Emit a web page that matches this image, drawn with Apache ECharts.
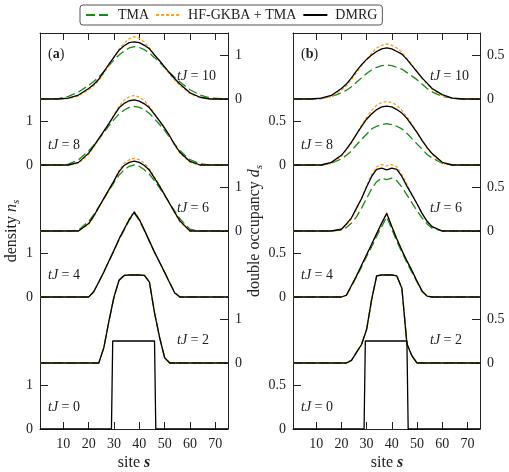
<!DOCTYPE html>
<html>
<head>
<meta charset="utf-8">
<script src="https://cdn.jsdelivr.net/npm/echarts@6/dist/echarts.min.js"></script>
<style>
  html, body { margin: 0; padding: 0; background: #fff; }
  #chart { width: 509px; height: 472px; }
</style>
</head>
<body>
<div id="chart"></div>
<script>
// sites where the curves are sampled
const sites = [1, 8, 12, 16, 20, 22, 24, 26, 28, 30, 32, 34, 36, 38, 40, 42, 44, 46, 48, 50, 52, 54, 56, 60, 64, 68, 75];
const times = [0, 2, 4, 6, 8, 10];

// initial state (tJ = 0): doubly occupied block
const stepSites = [1, 29, 30, 46, 47, 75];
const nStep = [0, 0, 2, 2, 0, 0];
const dStep = [0, 0, 1, 1, 0, 0];

// density n_s
const n2 = [0, 0, 0, 0, 0, 0, 0, 0.35, 0.95, 1.50, 1.88, 1.99, 2.0, 2.0, 2.0, 1.99, 1.84, 1.14, 0.58, 0.12, 0, 0, 0, 0, 0, 0, 0];
const nTMA4 = [0, 0, 0, 0, 0, 0.12, 0.34, 0.57, 0.81, 1.05, 1.30, 1.52, 1.74, 1.90, 1.74, 1.51, 1.26, 1.01, 0.79, 0.56, 0.33, 0.10, 0, 0, 0, 0, 0];
const nHF4 = [0, 0, 0, 0, 0, 0.12, 0.34, 0.57, 0.82, 1.06, 1.32, 1.55, 1.78, 1.95, 1.77, 1.52, 1.27, 1.02, 0.79, 0.56, 0.32, 0.09, 0, 0, 0, 0, 0];
const nDMRG4 = [0, 0, 0, 0, 0, 0.12, 0.34, 0.57, 0.82, 1.06, 1.32, 1.54, 1.76, 1.93, 1.76, 1.52, 1.27, 1.02, 0.79, 0.56, 0.32, 0.09, 0, 0, 0, 0, 0];
const nTMA6 = [0, 0, 0, 0.02, 0.22, 0.37, 0.55, 0.73, 0.92, 1.10, 1.27, 1.39, 1.47, 1.50, 1.47, 1.39, 1.29, 1.14, 0.98, 0.81, 0.63, 0.45, 0.28, 0.04, 0, 0, 0];
const nHF6 = [0, 0, 0, 0, 0.15, 0.32, 0.52, 0.73, 0.94, 1.15, 1.38, 1.54, 1.62, 1.65, 1.62, 1.54, 1.41, 1.22, 1.03, 0.82, 0.61, 0.40, 0.21, 0, 0, 0, 0];
const nDMRG6 = [0, 0, 0, 0, 0.17, 0.34, 0.54, 0.74, 0.94, 1.14, 1.35, 1.49, 1.56, 1.59, 1.56, 1.49, 1.38, 1.20, 1.02, 0.82, 0.62, 0.42, 0.23, 0, 0, 0, 0];
const nTMA8 = [0, 0, 0.02, 0.12, 0.32, 0.45, 0.59, 0.74, 0.89, 1.03, 1.16, 1.25, 1.31, 1.33, 1.31, 1.26, 1.17, 1.05, 0.92, 0.78, 0.63, 0.47, 0.33, 0.12, 0.03, 0, 0];
const nHF8 = [0, 0, 0, 0.04, 0.24, 0.40, 0.58, 0.76, 0.95, 1.14, 1.33, 1.47, 1.55, 1.58, 1.54, 1.46, 1.33, 1.17, 1.00, 0.83, 0.64, 0.44, 0.27, 0.06, 0, 0, 0];
const nDMRG8 = [0, 0, 0, 0.06, 0.27, 0.43, 0.60, 0.77, 0.94, 1.12, 1.30, 1.40, 1.46, 1.48, 1.45, 1.39, 1.30, 1.15, 1.00, 0.84, 0.66, 0.46, 0.29, 0.08, 0, 0, 0];
const nTMA10 = [0, 0.01, 0.06, 0.16, 0.31, 0.40, 0.50, 0.62, 0.76, 0.89, 1.00, 1.09, 1.16, 1.19, 1.17, 1.12, 1.04, 0.94, 0.83, 0.71, 0.60, 0.49, 0.39, 0.21, 0.09, 0.02, 0];
const nHF10 = [0, 0, 0.01, 0.07, 0.21, 0.30, 0.42, 0.58, 0.76, 0.95, 1.13, 1.27, 1.37, 1.42, 1.38, 1.29, 1.16, 1.01, 0.86, 0.71, 0.56, 0.43, 0.31, 0.12, 0.03, 0, 0];
const nDMRG10 = [0, 0, 0.02, 0.09, 0.24, 0.33, 0.45, 0.62, 0.79, 0.95, 1.11, 1.21, 1.28, 1.30, 1.28, 1.22, 1.14, 1.00, 0.87, 0.73, 0.59, 0.46, 0.34, 0.14, 0.04, 0, 0];

// double occupancy d_s
const d2 = [0, 0, 0, 0, 0, 0, 0.03, 0.12, 0.21, 0.38, 0.72, 0.99, 1.0, 1.0, 1.0, 0.99, 0.85, 0.22, 0.08, 0, 0, 0, 0, 0, 0, 0, 0];
const dTMA4 = [0, 0, 0, 0, 0, 0.02, 0.12, 0.23, 0.34, 0.46, 0.57, 0.69, 0.80, 0.91, 0.77, 0.63, 0.51, 0.39, 0.28, 0.17, 0.06, 0.01, 0, 0, 0, 0, 0];
const dHF4 = [0, 0, 0, 0, 0, 0.02, 0.13, 0.24, 0.36, 0.48, 0.60, 0.72, 0.84, 0.96, 0.80, 0.66, 0.53, 0.41, 0.30, 0.18, 0.07, 0.01, 0, 0, 0, 0, 0];
const dDMRG4 = [0, 0, 0, 0, 0, 0.02, 0.13, 0.24, 0.36, 0.48, 0.60, 0.72, 0.84, 0.95, 0.80, 0.66, 0.53, 0.41, 0.30, 0.18, 0.07, 0.01, 0, 0, 0, 0, 0];
const dTMA6 = [0, 0, 0, 0, 0.01, 0.04, 0.09, 0.16, 0.26, 0.37, 0.48, 0.56, 0.60, 0.585, 0.60, 0.57, 0.50, 0.41, 0.32, 0.23, 0.15, 0.08, 0.03, 0, 0, 0, 0];
const dHF6 = [0, 0, 0, 0, 0.02, 0.07, 0.14, 0.25, 0.37, 0.51, 0.64, 0.73, 0.755, 0.74, 0.755, 0.73, 0.64, 0.53, 0.42, 0.31, 0.20, 0.11, 0.05, 0, 0, 0, 0];
const dDMRG6 = [0, 0, 0, 0, 0.02, 0.08, 0.15, 0.26, 0.37, 0.50, 0.62, 0.70, 0.715, 0.695, 0.715, 0.70, 0.62, 0.51, 0.41, 0.31, 0.20, 0.11, 0.05, 0, 0, 0, 0];
const dTMA8 = [0, 0, 0, 0.02, 0.07, 0.11, 0.16, 0.23, 0.29, 0.35, 0.41, 0.44, 0.46, 0.47, 0.46, 0.44, 0.41, 0.36, 0.30, 0.24, 0.18, 0.12, 0.08, 0.02, 0, 0, 0];
const dHF8 = [0, 0, 0, 0.02, 0.10, 0.17, 0.25, 0.35, 0.45, 0.54, 0.62, 0.68, 0.71, 0.72, 0.71, 0.68, 0.62, 0.55, 0.46, 0.37, 0.28, 0.19, 0.12, 0.02, 0, 0, 0];
const dDMRG8 = [0, 0, 0, 0.03, 0.11, 0.18, 0.26, 0.35, 0.44, 0.52, 0.58, 0.63, 0.66, 0.67, 0.66, 0.63, 0.59, 0.53, 0.45, 0.37, 0.28, 0.20, 0.13, 0.03, 0, 0, 0];
const dTMA10 = [0, 0, 0.01, 0.03, 0.07, 0.10, 0.14, 0.19, 0.24, 0.29, 0.33, 0.36, 0.38, 0.386, 0.38, 0.36, 0.34, 0.30, 0.26, 0.22, 0.17, 0.12, 0.08, 0.03, 0.01, 0, 0];
const dHF10 = [0, 0, 0, 0.03, 0.10, 0.15, 0.22, 0.30, 0.38, 0.45, 0.52, 0.58, 0.61, 0.625, 0.61, 0.58, 0.53, 0.46, 0.39, 0.31, 0.23, 0.17, 0.11, 0.04, 0.01, 0, 0];
const dDMRG10 = [0, 0, 0.01, 0.04, 0.12, 0.17, 0.24, 0.32, 0.39, 0.45, 0.50, 0.54, 0.57, 0.58, 0.57, 0.54, 0.51, 0.45, 0.38, 0.31, 0.24, 0.18, 0.12, 0.05, 0.01, 0, 0];

// axis ticks
const xTicks = [10, 20, 30, 40, 50, 60, 70];
const nTicks = [0, 1];
const nTickLabels = ['0', '1'];
const dTicks = [0, 0.5];
const dTickLabels = ['0', '0.5'];

const FONT = 'Liberation Serif';
const INK = '#222';
const methods = [
    { name: 'TMA', color: '#1a8a1a', type: [9, 4] },
    { name: 'HF-GKBA + TMA', color: '#ff9f1a', type: [3, 2] },
    { name: 'DMRG', color: '#000', type: 'solid' }
];

const panels = [
    {
        shift: 1.5, ymax: 9, ticks: nTicks, labels: nTickLabels,
        step: nStep,
        curves: [
            [n2, n2, n2],
            [nTMA4, nHF4, nDMRG4],
            [nTMA6, nHF6, nDMRG6],
            [nTMA8, nHF8, nDMRG8],
            [nTMA10, nHF10, nDMRG10]
        ]
    },
    {
        shift: 0.75, ymax: 4.5, ticks: dTicks, labels: dTickLabels,
        step: dStep,
        curves: [
            [d2, d2, d2],
            [dTMA4, dHF4, dDMRG4],
            [dTMA6, dHF6, dDMRG6],
            [dTMA8, dHF8, dDMRG8],
            [dTMA10, dHF10, dDMRG10]
        ]
    }
];

const chart = echarts.init(document.getElementById('chart'));

const series = [];
const xAxis = [];
const yAxis = [];

panels.forEach((p, gi) => {
    // 叠放的基线
    const leftTicks = [], rightTicks = [], leftLab = [], rightLab = [];
    times.forEach((t, k) => {
        const base = k * p.shift;
        p.ticks.forEach((v, j) => {
            if (k % 2 === 0) { leftTicks.push(base + v); leftLab.push(p.labels[j]); }
            else { rightTicks.push(base + v); rightLab.push(p.labels[j]); }
        });
    });
    const fmt = (ticks, labs) => (v) => {
        const k = ticks.findIndex(t => Math.abs(t - v) < 1e-6);
        return k >= 0 ? labs[k] : '';
    };

    const tickStyle = { inside: true, length: 7, lineStyle: { color: INK, width: 1 } };
    xAxis.push({
        gridIndex: gi, type: 'value', min: 0.8, max: 75, position: 'bottom',
        axisLine: { onZero: false, lineStyle: { color: INK, width: 1 } },
        axisTick: Object.assign({ customValues: xTicks }, tickStyle),
        axisLabel: { customValues: xTicks, margin: 8, color: INK, fontSize: 14, fontFamily: FONT },
        splitLine: { show: false }
    });
    xAxis.push({
        gridIndex: gi, type: 'value', min: 0.8, max: 75, position: 'top',
        axisLine: { onZero: false, lineStyle: { color: INK, width: 1 } },
        axisTick: Object.assign({ customValues: xTicks }, tickStyle),
        axisLabel: { show: false },
        splitLine: { show: false }
    });
    yAxis.push({
        gridIndex: gi, type: 'value', min: 0, max: p.ymax, position: 'left',
        axisLine: { show: true, onZero: false, lineStyle: { color: INK, width: 1 } },
        axisTick: Object.assign({ customValues: leftTicks }, tickStyle, { length: 8 }),
        axisLabel: { customValues: leftTicks, formatter: fmt(leftTicks, leftLab), margin: 7, color: INK, fontSize: 14, fontFamily: FONT },
        splitLine: { show: false }
    });
    yAxis.push({
        gridIndex: gi, type: 'value', min: 0, max: p.ymax, position: 'right',
        axisLine: { show: true, onZero: false, lineStyle: { color: INK, width: 1 } },
        axisTick: Object.assign({ customValues: rightTicks }, tickStyle, { length: 8 }),
        axisLabel: { customValues: rightTicks, formatter: fmt(rightTicks, rightLab), margin: 7, color: INK, fontSize: 14, fontFamily: FONT },
        splitLine: { show: false }
    });

    p.curves.forEach((trio, k) => {
        const base = (k + 1) * p.shift;
        trio.forEach((vals, m) => {
            const meth = methods[m];
            series.push({
                name: meth.name, type: 'line', symbol: 'none', silent: true,
                xAxisIndex: gi * 2, yAxisIndex: gi * 2,
                z: m === 2 ? 4 : 3,
                lineStyle: { color: meth.color, width: 1.3, type: meth.type },
                itemStyle: { color: meth.color },
                data: sites.map((s, i) => [s, vals[i] + base])
            });
        });
    });

    // tJ = 0 阶跃
    series.push({
        name: 'DMRG', type: 'line', step: 'middle', symbol: 'none', silent: true,
        xAxisIndex: gi * 2, yAxisIndex: gi * 2, z: 4,
        lineStyle: { color: '#000', width: 1.3 },
        itemStyle: { color: '#000' },
        data: stepSites.map((s, i) => [s, p.step[i]])
    });
});

// 文字标注
const richBase = {
    i: { fontStyle: 'italic', fontFamily: FONT, fontSize: 14, fill: INK },
    b: { fontWeight: 'bold', fontFamily: FONT, fontSize: 14, fill: INK },
    n: { fontFamily: FONT, fontSize: 14, fill: INK },
    sub: { fontStyle: 'italic', fontFamily: FONT, fontSize: 11, fill: INK, padding: [8, 0, 0, 0] },
    ti: { fontStyle: 'italic', fontFamily: FONT, fontSize: 16, fill: INK },
    tb: { fontStyle: 'italic', fontWeight: 'bold', fontFamily: FONT, fontSize: 16, fill: INK },
    t: { fontFamily: FONT, fontSize: 16, fill: INK }
};
const label = (x, y, text, extra) => Object.assign({
    type: 'text', x: x, y: y, silent: true,
    style: { text: text, rich: richBase, align: 'left', verticalAlign: 'middle', font: '14px ' + FONT, fill: INK }
}, extra || {});

const tLabelY = [407, 340, 275, 208, 145, 76];
const graphics = [];
[[48, 177], [301, 430]].forEach((xs) => {
    times.forEach((t, k) => {
        const x = k % 2 === 0 ? xs[0] : xs[1];
        graphics.push(label(x, tLabelY[k], '{i|tJ}{n| = ' + t + '}'));
    });
});
graphics.push(label(48, 54, '{n|(}{b|a}{n|)}'));
graphics.push(label(301, 54, '{n|(}{b|b}{n|)}'));
graphics.push(label(134, 463, '{t|site }{tb|s}', {}));
graphics.push(label(387, 463, '{t|site }{tb|s}', {}));
graphics.push(label(12, 231, '{t|density }{ti|n}{sub|s}', { rotation: Math.PI / 2 }));
graphics.push(label(255, 231, '{t|double occupancy }{ti|d}{sub|s}', { rotation: Math.PI / 2 }));
graphics.slice(-4).forEach(g => { g.style.align = 'center'; });

chart.setOption({
    animation: false,
    backgroundColor: '#fff',
    grid: [
        { left: 40, top: 33, width: 188, height: 396 },
        { left: 293, top: 33, width: 187, height: 396 }
    ],
    legend: {
        data: methods.map(m => m.name),
        left: 80, top: 5,
        padding: [3, 5],
        itemWidth: 24, itemHeight: 12, itemGap: 6,
        itemStyle: { opacity: 0 },
        borderColor: '#555', borderWidth: 1, borderRadius: 3,
        textStyle: { fontFamily: FONT, fontSize: 14, color: INK, padding: [0, 0, 0, 3] }
    },
    xAxis: xAxis,
    yAxis: yAxis,
    series: series,
    graphic: graphics
});

window.addEventListener('resize', () => chart.resize());
</script>
</body>
</html>
